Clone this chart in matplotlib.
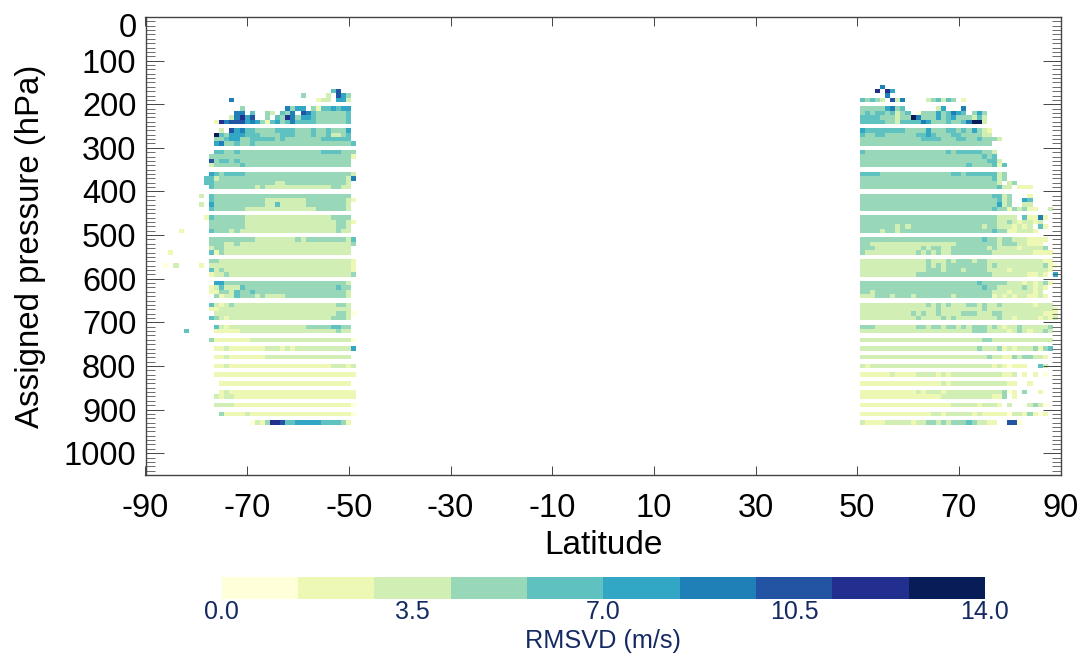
import numpy as np
import matplotlib
matplotlib.use("Agg")
import matplotlib.pyplot as plt
from matplotlib.colors import ListedColormap, BoundaryNorm
from matplotlib.colorbar import ColorbarBase
from matplotlib.transforms import ScaledTranslation

plt.rcParams['font.family'] = ['Liberation Sans', 'DejaVu Sans']
plt.rcParams['axes.unicode_minus'] = False

# colour bands (RMSVD, m/s)
band_edges = [0, 1.4, 2.8, 4.2, 5.6, 7.0, 8.4, 9.8, 11.2, 12.6, 14.0]
band_colors = ['#FFFFD9', '#EDF8B4', '#D1EEB4', '#98D8B9', '#60C1C1',
               '#32A6C5', '#1F80B8', '#2354A3', '#222F8E', '#081D58']
cbar_ticks = [0.0, 3.5, 7.0, 10.5, 14.0]
lat_ticks = [-90, -70, -50, -30, -10, 10, 30, 50, 70, 90]
p_ticks = list(range(0, 1001, 100))

# Per pressure level: "column:band" run starts; '.' = no data.
south_origin_lat = -77
south_rows = {
 170: "24:4 25:7 26:.",
 180: "18:3 19:. 23:2 24:. 25:7 26:5 27:3 28:.",
 190: "4:6 5:. 21:1 22:2 24:. 25:5 27:2 28:.",
 210: "6:3 7:. 15:6 16:3 17:5 19:. 20:3 21:1 22:4 24:5 25:4 26:5 28:.",
 220: "5:6 7:. 8:4 9:. 11:3 12:2 13:. 14:4 15:3 16:6 17:. 18:7 19:6 20:4 21:3 27:4 28:.",
 230: "4:2 5:6 6:8 7:5 8:7 9:. 11:3 12:. 13:4 14:3 15:8 16:6 17:3 18:5 20:4 21:3 27:4 28:.",
 240: "1:1 2:8 3:6 4:7 7:5 8:6 9:5 10:3 11:1 12:4 13:5 14:3 15:4 16:6 17:4 21:3 27:4 28:.",
 260: "2:2 3:. 4:7 5:5 6:6 7:4 9:3 13:4 17:3 20:4 21:3 23:4 24:3 27:5 28:.",
 270: "1:9 2:4 3:3 4:5 7:4 10:3 14:4 17:3 20:4 21:3 23:4 24:2 26:3 27:4 28:.",
 280: "1:3 3:4 4:5 6:3 8:4 13:3 14:4 15:3 22:4 28:.",
 290: "1:5 2:6 3:3 5:4 6:3 8:4 9:3 28:4 29:.",
 310: "1:4 3:3 5:4 6:3 22:4 26:3 29:.",
 320: "0:3 28:1 29:.",
 330: "0:7 1:3 2:4 4:3 5:4 6:3 28:.",
 340: "0:2 1:3 6:4 7:3 28:.",
 360: "0:5 1:4 2:3 3:4 7:3 28:2 29:.",
 370: "-1:4 1:2 2:3 27:2 28:6 29:.",
 380: "-1:4 1:3 13:2 15:3 27:2 28:.",
 390: "0:4 1:3 9:2 10:3 11:2 24:3 26:2 28:.",
 410: "-2:2 -1:. 0:4 1:3 28:.",
 420: "0:4 1:3 11:2 19:3 27:2 28:1 29:.",
 430: "-2:2 -1:. 0:5 1:3 11:2 13:4 14:2 19:3 27:2 28:.",
 440: "0:4 1:3 7:2 21:3 27:2 28:.",
 460: "-1:1 0:4 1:3 7:2 24:3 28:.",
 470: "0:3 7:2 25:3 27:2 28:1 29:.",
 480: "0:3 7:2 25:3 27:2 28:.",
 490: "-6:1 -5:. 0:4 1:3 4:2 5:3 6:2 25:3 26:2 28:.",
 510: "0:3 9:2 17:3 18:2 19:3 27:2 28:4 29:.",
 520: "0:3 3:2 5:3 6:2 28:3 29:.",
 530: "0:2 1:3 3:2 28:.",
 540: "-8:1 -7:. 0:4 1:1 2:3 3:2 28:.",
 560: "0:3 2:2 28:1 29:.",
 570: "-9:0 -8:. -7:2 -6:. -2:1 -1:. 0:2 28:1 29:.",
 580: "0:4 1:2 2:3 3:2 28:1 29:.",
 590: "0:1 1:2 3:3 4:2 28:3 29:.",
 610: "1:5 3:3 27:2 28:.",
 620: "0:1 1:2 2:4 3:2 6:4 7:3 25:4 26:3 28:.",
 630: "0:1 2:3 4:2 5:4 6:3 8:4 9:3 27:2 28:.",
 640: "1:3 2:1 3:2 5:4 6:3 9:2 10:3 11:2 15:3 27:2 28:.",
 660: "0:4 1:2 2:1 3:2 4:3 5:2 25:3 27:2 28:.",
 670: "0:1 2:2 28:.",
 680: "1:2 25:3 27:2 28:0 29:.",
 690: "0:4 1:3 2:2 3:1 4:2 24:3 27:2 28:.",
 710: "1:4 2:2 3:1 4:2 19:3 24:4 26:3 28:.",
 720: "-5:4 -4:. 1:1 6:2 25:3 26:2 28:.",
 740: "0:3 1:1 8:2 28:0 29:.",
 760: "1:1 3:2 4:1 11:2 14:1 15:2 16:1 17:2 28:5 29:.",
 780: "1:1 3:2 4:1 11:2 28:.",
 800: "1:1 3:2 4:1 24:2 27:1 28:2 29:.",
 820: "1:1 29:.",
 840: "2:1 28:.",
 860: "2:1 3:2 4:1 29:.",
 870: "1:2 2:1 3:2 5:1 29:.",
 890: "1:2 5:1 28:0 29:.",
 910: "2:3 3:1 7:2 8:1 28:0 29:.",
 930: "8:0 9:2 10:1 11:3 12:8 14:7 15:4 17:5 22:4 26:3 27:1 28:.",
}

north_origin_lat = 51
north_rows = {
 160: "4:6 5:.",
 170: "3:8 4:. 5:8 6:5 7:.",
 180: "5:6 6:.",
 190: "0:4 1:3 2:4 3:3 4:2 5:. 6:7 7:2 8:6 9:. 13:2 14:3 15:4 16:2 17:4 18:3 19:. 20:1 21:.",
 210: "0:3 5:5 6:6 7:3 8:4 9:. 15:2 16:5 17:. 20:6 21:.",
 220: "0:3 1:4 2:3 3:4 5:3 6:4 7:2 8:3 9:4 10:. 11:0 12:3 15:5 16:3 17:4 18:6 19:5 20:4 21:. 22:3 23:5 24:3 25:.",
 230: "0:4 4:3 7:2 8:3 10:9 11:6 12:3 15:5 16:3 17:4 18:5 19:3 22:2 23:4 24:2 25:.",
 240: "0:4 5:3 7:2 8:4 12:6 13:5 14:3 17:4 18:3 20:4 21:6 22:9 24:2 25:.",
 260: "0:5 1:4 9:3 13:5 14:3 17:4 19:3 20:4 21:3 22:5 23:3 24:2 25:1 26:.",
 270: "0:4 1:3 3:4 5:3 11:4 13:5 14:4 15:3 18:4 20:3 24:2 26:.",
 280: "0:3 12:4 16:3 19:4 21:3 23:4 24:3 27:2 28:.",
 290: "0:3 26:.",
 310: "0:4 1:3 17:4 18:3 19:4 24:3 26:2 27:.",
 320: "0:3 24:4 25:3 26:4 27:.",
 330: "0:3 25:4 27:2 28:.",
 340: "0:3 21:4 22:3 26:4 27:1 28:4 29:.",
 360: "0:4 4:3 18:4 20:3 21:4 27:2 28:3 29:.",
 370: "0:3 26:4 27:2 28:3 29:.",
 380: "0:3 27:2 28:. 29:2 30:3 31:.",
 390: "0:3 27:4 28:2 30:. 31:1 34:.",
 410: "0:3 26:4 28:2 29:3 30:. 33:1 34:.",
 420: "0:3 27:4 28:2 29:3 30:. 32:5 33:4 34:.",
 430: "0:3 27:5 28:2 29:3 30:. 32:2 34:.",
 440: "0:3 26:4 27:3 29:1 30:3 31:2 32:3 33:1 35:. 37:2 38:.",
 460: "0:3 27:2 31:. 32:4 33:1 35:6 36:1 37:.",
 470: "0:3 27:2 29:3 30:2 31:1 32:2 34:1 35:2 36:.",
 480: "0:3 7:2 8:3 9:2 10:3 24:2 25:3 27:2 30:1 31:2 32:1 33:2 34:. 35:4 36:1 37:.",
 490: "0:3 4:2 5:3 7:2 8:3 26:4 27:3 29:1 31:2 34:1 35:.",
 510: "0:3 24:4 25:3 27:2 28:3 30:2 33:1 37:.",
 520: "0:3 2:2 19:3 27:2 28:3 31:2 33:1 36:.",
 530: "0:3 3:2 12:3 13:2 14:3 16:2 18:3 25:2 26:3 27:2 31:1 32:2 36:3 37:.",
 540: "0:3 1:2 11:3 12:2 13:3 14:2 15:3 16:2 18:3 26:2 34:1 38:.",
 560: "0:2 13:3 14:2 17:3 18:2 19:3 22:2 23:3 25:2 36:1 38:.",
 570: "0:2 13:3 14:2 15:3 16:2 17:3 25:2 26:3 27:2 36:3 37:1 38:0 39:.",
 580: "0:2 13:3 16:2 17:3 20:2 21:3 25:2 29:1 30:2 36:2 37:1 38:.",
 590: "0:2 11:3 26:2 33:1 35:2 36:1 37:. 38:5 39:.",
 610: "0:3 23:4 24:3 29:2 32:1 33:2 34:1 35:2 36:3 37:1 38:.",
 620: "0:3 24:4 25:3 27:2 32:3 33:2 34:1 35:2 36:1 37:.",
 630: "0:3 2:2 3:3 26:2 29:1 30:2 34:1 35:2 36:.",
 640: "0:2 3:3 6:2 7:3 10:2 11:3 18:2 19:3 26:1 27:2 28:1 29:2 30:1 31:2 33:1 35:2 36:1 37:.",
 660: "0:2 13:3 14:2 15:3 16:2 17:3 18:2 21:3 23:2 24:3 25:2 27:3 28:2 34:1 35:2 38:.",
 670: "0:2 15:3 16:2 24:3 25:2 38:1 39:.",
 680: "0:2 10:3 11:2 12:3 13:2 15:3 16:2 20:3 23:2 26:3 28:2 36:1 39:.",
 690: "0:2 11:3 12:2 16:3 17:2 18:3 19:2 27:3 28:2 30:1 31:2 35:1 36:2 37:1 38:2 39:.",
 710: "0:3 3:2 11:3 13:2 14:3 16:2 17:3 19:2 20:3 21:2 22:3 25:2 26:3 27:2 28:1 29:2 31:3 32:2 37:3 38:.",
 720: "0:2 22:3 25:2 29:1 30:2 31:3 32:2 33:1 34:2 36:3 37:2 38:.",
 740: "0:2 24:3 26:2 38:.",
 760: "0:2 23:3 24:2 27:3 28:1 29:2 30:1 31:2 34:3 35:1 36:3 37:4 38:.",
 780: "0:2 25:3 26:2 28:1 30:3 31:2 32:3 34:2 36:1 37:.",
 800: "0:2 1:1 2:2 26:1 27:2 28:1 29:0 30:1 33:. 35:4 36:2 37:.",
 820: "0:1 6:2 7:1 11:2 15:1 16:2 17:1 18:2 28:1 30:2 31:. 32:1 33:. 34:1 35:. 36:0 37:.",
 840: "0:1 16:2 17:1 18:2 29:1 31:. 33:1 34:.",
 860: "0:1 11:2 12:1 13:2 16:1 17:2 28:3 29:0 30:1 31:. 32:3 33:. 35:1 36:.",
 870: "0:1 16:2 26:1 28:3 29:. 30:1 31:.",
 890: "0:1 18:2 23:1 24:2 27:1 28:. 29:2 30:. 33:2 34:3 35:2 36:0 37:.",
 910: "0:1 14:2 16:1 17:2 22:1 23:2 24:1 29:0 30:2 32:1 33:3 34:1 35:0 36:1 37:.",
 930: "0:2 1:1 5:2 10:1 11:2 13:3 15:2 16:3 17:2 18:3 21:4 22:3 23:2 25:1 27:. 29:7 31:0 32:.",
}

lat_edges = np.arange(-90.5, 91.5, 1.0)
p_edges = np.arange(-5, 1056, 10.0)
mid_values = 0.5 * (np.array(band_edges[:-1]) + np.array(band_edges[1:]))
grid = np.full((len(p_edges) - 1, len(lat_edges) - 1), np.nan)


def fill(rows, origin):
    for p, spec in rows.items():
        runs = [s.rsplit(':', 1) for s in spec.split()]
        j = int(round(p / 10))
        for (c0, b), (c1, _) in zip(runs[:-1], runs[1:]):
            if b == '.':
                continue
            for c in range(int(c0), int(c1)):
                grid[j, origin + c + 90] = mid_values[int(b)]


fill(south_rows, south_origin_lat)
fill(north_rows, north_origin_lat)

W, H = 1082, 653
fig = plt.figure(figsize=(W / 100, H / 100), dpi=100)
ax = fig.add_axes([145.5 / W, 1 - 475 / H, 915 / W, 458 / H])
cmap = ListedColormap(band_colors)
norm = BoundaryNorm(band_edges, cmap.N)
ax.pcolormesh(lat_edges, p_edges, np.ma.masked_invalid(grid), cmap=cmap, norm=norm,
              shading='flat', linewidth=0, rasterized=True)

ax.set_xlim(-90, 90)
ax.set_ylim(1050, 0)
ax.set_xticks(lat_ticks)
ax.set_yticks(p_ticks)
ax.set_yticks(np.arange(0, 1051, 10), minor=True)
dark = '#444444'
for s in ax.spines.values():
    s.set_color(dark)
    s.set_linewidth(1.0)
ax.tick_params(axis='x', which='major', direction='in', length=6.5, width=0.7,
               color=dark, labelsize=23.5, pad=13, top=True)
ax.tick_params(axis='y', which='major', direction='in', length=13, width=0.7,
               color=dark, labelsize=23.5, pad=6.5, right=True)
ax.tick_params(axis='y', which='minor', direction='in', length=6.5, width=0.6,
               color='#555555', right=True)
ax.set_xlabel('Latitude', fontsize=24, labelpad=4, color='black')
ax.set_ylabel('Assigned pressure (hPa)', fontsize=23.8, labelpad=13, color='black')

# the "0" label sits below its tick so that it stays inside the figure
zero_label = ax.get_yticklabels()[0]
zero_label.set_transform(zero_label.get_transform()
                         + ScaledTranslation(0, -8 / 100, fig.dpi_scale_trans))

navy = '#152A63'
cax = fig.add_axes([221.5 / W, 1 - 599 / H, 763.5 / W, 22 / H])
cb = ColorbarBase(cax, cmap=cmap, norm=norm, orientation='horizontal',
                  boundaries=band_edges, spacing='proportional', ticks=cbar_ticks)
cb.outline.set_visible(False)
cb.ax.minorticks_off()
cb.ax.tick_params(length=0, labelsize=18, labelcolor=navy, pad=1)
cb.ax.set_xticklabels([f'{t:.1f}' for t in cbar_ticks])
cb.set_label('RMSVD (m/s)', fontsize=18.2, color=navy, labelpad=3)

fig.savefig('out.png', dpi=100)
